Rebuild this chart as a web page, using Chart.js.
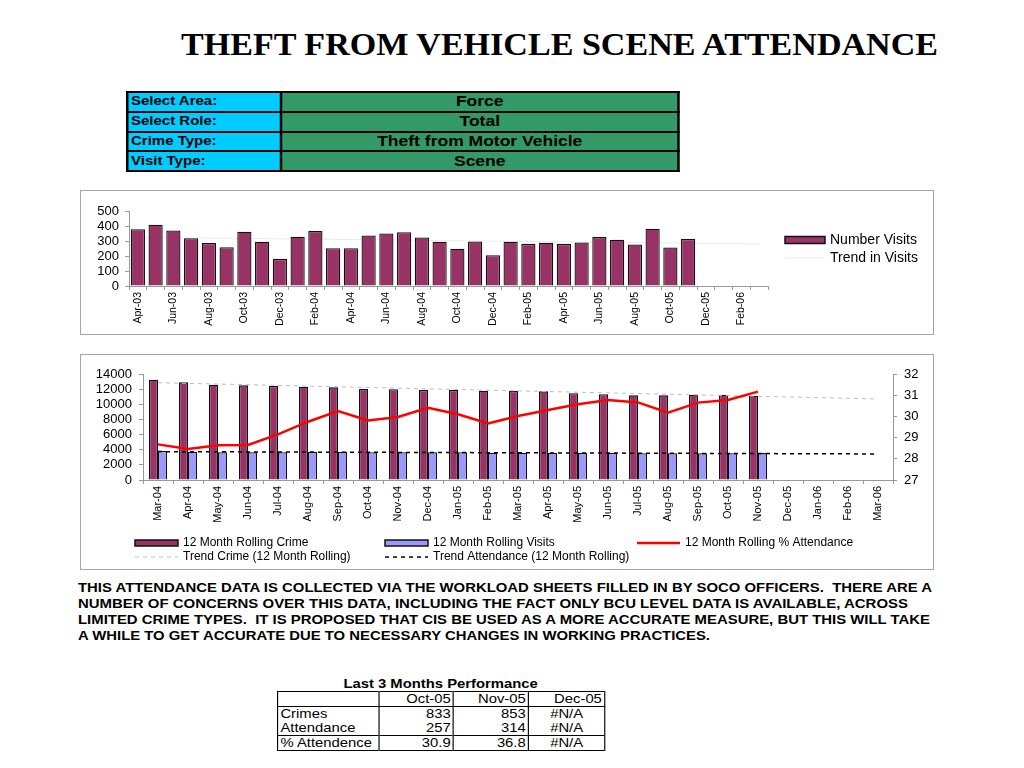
<!DOCTYPE html>
<html>
<head>
<meta charset="utf-8">
<title>Theft From Vehicle Scene Attendance</title>
<script src="https://cdn.jsdelivr.net/npm/chart.js@4.4.0/dist/chart.umd.min.js"></script>
<style>
  body { margin: 0; background: #fff; font-family: "Liberation Sans", Arial, sans-serif; color: #000; }
  #page { position: relative; width: 1024px; height: 768px; overflow: hidden; }
  #title { position: absolute; left: 181px; top: 28px; font: bold 32px "Liberation Serif", "Times New Roman", serif;
           line-height: 32px; white-space: nowrap; transform-origin: 0 0; }
  .box { position: absolute; left: 80px; width: 854px; border: 1px solid #a6a6a6; box-sizing: border-box; }
  .box .inner { position: relative; width: 852px; height: 100%; }

  #info { position: absolute; left: 126px; top: 91px; transform-origin: 0 0; transform: scaleX(1.25); }
  #info table { border-collapse: collapse; width: 443px; table-layout: fixed; }
  #info tr { height: 19.75px; }
  #info td { border: 2px solid #000; padding: 0 2px; font-weight: bold; line-height: 15px; white-space: nowrap; }
  #info td.lab { background: #00ccff; font-size: 12px; width: 117px; }
  #info td.val { background: #339966; font-size: 14px; text-align: center; }

  .note { position: absolute; left: 78px; font-weight: bold; font-size: 13px; line-height: 16px;
          white-space: pre; transform-origin: 0 0; }

  #perf { position: absolute; left: 277px; top: 676px; transform-origin: 0 0; transform: scaleX(1.14); }
  #perf .cap { width: 287px; text-align: center; font-weight: bold; font-size: 13px; line-height: 15px; }
  #perf table { border-collapse: collapse; table-layout: fixed; width: 287px; border: 1px solid #000; font-size: 13px; }
  #perf td { padding: 0 2px; line-height: 14px; height: 14px; border-left: 1px solid #000; border-right: 1px solid #000; white-space: nowrap; }
  #perf td.n { text-align: right; }
  #perf td.na { text-align: center; }
  #perf tr.head td { border-bottom: 1px solid #000; }
  #perf tr.pct td { border-top: 1px solid #000; }
</style>
</head>
<body>
<div id="page">
  <div id="title">THEFT FROM VEHICLE SCENE ATTENDANCE</div>

  <div id="info">
    <table>
      <tr><td class="lab">Select Area:</td><td class="val">Force</td></tr>
      <tr><td class="lab">Select Role:</td><td class="val">Total</td></tr>
      <tr><td class="lab">Crime Type:</td><td class="val">Theft from Motor Vehicle</td></tr>
      <tr><td class="lab">Visit Type:</td><td class="val">Scene</td></tr>
    </table>
  </div>

  <div class="box" style="top:190px;height:145px;"><div class="inner"><canvas id="visitsChart"></canvas></div></div>
  <div class="box" style="top:354px;height:216px;"><div class="inner"><canvas id="rollingChart"></canvas></div></div>

  <div class="note" style="top:580px;">THIS ATTENDANCE DATA IS COLLECTED VIA THE WORKLOAD SHEETS FILLED IN BY SOCO OFFICERS.  THERE ARE A</div>
  <div class="note" style="top:596px;">NUMBER OF CONCERNS OVER THIS DATA, INCLUDING THE FACT ONLY BCU LEVEL DATA IS AVAILABLE, ACROSS</div>
  <div class="note" style="top:612px;">LIMITED CRIME TYPES.  IT IS PROPOSED THAT CIS BE USED AS A MORE ACCURATE MEASURE, BUT THIS WILL TAKE</div>
  <div class="note" style="top:628px;">A WHILE TO GET ACCURATE DUE TO NECESSARY CHANGES IN WORKING PRACTICES.</div>

  <div id="perf">
    <div class="cap">Last 3 Months Performance</div>
    <table>
      <colgroup><col style="width:88.6px"><col style="width:65.8px"><col style="width:65.8px"><col style="width:66.8px"></colgroup>
      <tr class="head"><td></td><td class="n">Oct-05</td><td class="n">Nov-05</td><td class="n">Dec-05</td></tr>
      <tr><td>Crimes</td><td class="n">833</td><td class="n">853</td><td class="na">#N/A</td></tr>
      <tr><td>Attendance</td><td class="n">257</td><td class="n">314</td><td class="na">#N/A</td></tr>
      <tr class="pct"><td>% Attendence</td><td class="n">30.9</td><td class="n">36.8</td><td class="na">#N/A</td></tr>
    </table>
  </div>
</div>

<script>
// monthly visits, Apr-03 .. Mar-06
const visitMonths = ['Apr-03','May-03','Jun-03','Jul-03','Aug-03','Sep-03','Oct-03','Nov-03','Dec-03',
  'Jan-04','Feb-04','Mar-04','Apr-04','May-04','Jun-04','Jul-04','Aug-04','Sep-04','Oct-04','Nov-04','Dec-04',
  'Jan-05','Feb-05','Mar-05','Apr-05','May-05','Jun-05','Jul-05','Aug-05','Sep-05','Oct-05','Nov-05','Dec-05',
  'Jan-06','Feb-06','Mar-06'];
const numberVisits = [379, 408, 370, 319, 286, 259, 362, 295, 181,
  328, 366, 252, 252, 337, 350, 359, 324, 295, 248, 297, 205,
  295, 281, 288, 281, 290, 326, 308, 277, 382, 257, 314, null,
  null, null, null];
const visitTrendEnds = [325, 280];

// 12 month rolling figures, Mar-04 .. Mar-06
const rollingMonths = ['Mar-04','Apr-04','May-04','Jun-04','Jul-04','Aug-04','Sep-04','Oct-04','Nov-04','Dec-04',
  'Jan-05','Feb-05','Mar-05','Apr-05','May-05','Jun-05','Jul-05','Aug-05','Sep-05','Oct-05','Nov-05',
  'Dec-05','Jan-06','Feb-06','Mar-06'];
const rollingCrime = [13250, 12900, 12590, 12500, 12420, 12330, 12240, 12020, 11980, 11890,
  11890, 11800, 11760, 11710, 11450, 11320, 11180, 11180, 11270, 11270, 11140,
  null, null, null, null];
const rollingVisits = [3830, 3740, 3660, 3660, 3660, 3740, 3740, 3660, 3660, 3660,
  3660, 3570, 3590, 3580, 3570, 3560, 3540, 3530, 3540, 3530, 3550,
  null, null, null, null];
const rollingPct = [28.68, 28.46, 28.64, 28.65, 29.15, 29.75, 30.25, 29.81, 29.97, 30.41,
  30.10, 29.67, 30.02, 30.30, 30.57, 30.77, 30.66, 30.18, 30.65, 30.77, 31.17,
  null, null, null, null];
const crimeTrendEnds = [12850, 10700];
const attendTrendEnds = [3750, 3440];

const visitTicks = [0, 100, 200, 300, 400, 500];
const crimeTicks = [0, 2000, 4000, 6000, 8000, 10000, 12000, 14000];
const pctTicks = [27, 28, 29, 30, 31, 32];

Chart.defaults.font.family = '"Liberation Sans", Arial, sans-serif';
Chart.defaults.color = '#000';

// line running between the first and last category
function trendPoints(labels, ends) {
  return [{ x: labels[0], y: ends[0] }, { x: labels[labels.length - 1], y: ends[1] }];
}

// legend drawn at fixed slots, like the spreadsheet legend grid
const slotLegend = {
  id: 'slotLegend',
  afterDraw(chart, args, opts) {
    const ctx = chart.ctx;
    ctx.save();
    ctx.font = opts.font;
    ctx.textBaseline = 'middle';
    chart.data.datasets.forEach((ds, i) => {
      const slot = opts.slots[i];
      if (!slot) return;
      const [x, y] = slot;
      if (ds.type === 'line') {
        ctx.strokeStyle = ds.borderColor;
        ctx.lineWidth = ds.borderWidth;
        ctx.setLineDash(ds.borderDash || []);
        ctx.beginPath();
        ctx.moveTo(x, y);
        ctx.lineTo(x + opts.boxWidth, y);
        ctx.stroke();
        ctx.setLineDash([]);
      } else {
        ctx.fillStyle = ds.backgroundColor;
        ctx.fillRect(x, y - opts.boxHeight / 2, opts.boxWidth, opts.boxHeight);
        ctx.strokeStyle = ds.borderColor;
        ctx.lineWidth = 1.5;
        ctx.strokeRect(x, y - opts.boxHeight / 2, opts.boxWidth, opts.boxHeight);
      }
      ctx.fillStyle = '#000';
      ctx.fillText(ds.label, x + opts.boxWidth + opts.gap, y);
    });
    ctx.restore();
  }
};

function tickList(values) {
  return function (scale) {
    scale.ticks = values.map(v => ({ value: v }));
  };
}
const plainNumber = v => String(v);

new Chart(document.getElementById('visitsChart'), {
  type: 'bar',
  data: {
    labels: visitMonths,
    datasets: [
      { label: 'Number Visits', data: numberVisits, backgroundColor: '#993366', borderColor: '#111',
        borderWidth: 1.3, categoryPercentage: 0.8, barPercentage: 1, order: 1 },
      { type: 'line', label: 'Trend in Visits', data: trendPoints(visitMonths, visitTrendEnds),
        borderColor: '#ebebeb', borderWidth: 1, pointRadius: 0, order: 2 }
    ]
  },
  options: {
    responsive: true,
    maintainAspectRatio: false,
    animation: false,
    layout: { padding: { top: 20, right: 165, bottom: 4, left: 0 } },
    plugins: {
      legend: { display: false },
      tooltip: { enabled: false },
      slotLegend: { font: '14px "Liberation Sans", Arial, sans-serif', boxWidth: 40, boxHeight: 7, gap: 5,
        slots: [[704, 49], [704, 67]] }
    },
    scales: {
      x: {
        grid: { drawOnChartArea: false, color: '#999', tickLength: 4 },
        border: { color: '#999' },
        ticks: { font: { size: 10.5 }, minRotation: 90, maxRotation: 90, autoSkip: false, padding: 2,
          callback: function (v, i) { return i % 2 === 0 ? this.getLabelForValue(v) : ''; } },
        afterFit: s => { s.height = 44; }
      },
      y: {
        min: 0, max: 500,
        grid: { drawOnChartArea: false, color: '#999', tickLength: 4 },
        border: { color: '#999' },
        ticks: { font: { size: 13 }, padding: 6, autoSkip: false, callback: plainNumber },
        afterBuildTicks: tickList(visitTicks),
        afterFit: s => { s.width = 48; }
      }
    }
  },
  plugins: [slotLegend]
});

new Chart(document.getElementById('rollingChart'), {
  type: 'bar',
  data: {
    labels: rollingMonths,
    datasets: [
      { label: '12 Month Rolling Crime', data: rollingCrime, backgroundColor: '#993366', borderColor: '#111',
        borderWidth: 1.3, categoryPercentage: 0.6, barPercentage: 1, yAxisID: 'y', order: 2 },
      { label: '12 Month Rolling Visits', data: rollingVisits, backgroundColor: '#9999ff', borderColor: '#111',
        borderWidth: 1.3, categoryPercentage: 0.6, barPercentage: 1, yAxisID: 'y', order: 2 },
      { type: 'line', label: '12 Month Rolling % Attendance', data: rollingPct, borderColor: '#ff0000',
        borderWidth: 2.5, pointRadius: 0, yAxisID: 'y2', order: 0 },
      { type: 'line', label: 'Trend Crime (12 Month Rolling)', data: trendPoints(rollingMonths, crimeTrendEnds),
        borderColor: '#bdbdbd', borderWidth: 1, borderDash: [4, 4], pointRadius: 0, yAxisID: 'y', order: 1 },
      { type: 'line', label: 'Trend Attendance (12 Month Rolling)', data: trendPoints(rollingMonths, attendTrendEnds),
        borderColor: '#000', borderWidth: 1.5, borderDash: [4, 4], pointRadius: 0, yAxisID: 'y', order: 1 }
    ]
  },
  options: {
    responsive: true,
    maintainAspectRatio: false,
    animation: false,
    layout: { padding: { top: 19, right: 0, bottom: 44, left: 0 } },
    plugins: {
      legend: { display: false },
      tooltip: { enabled: false },
      slotLegend: { font: '12px "Liberation Sans", Arial, sans-serif', boxWidth: 43, boxHeight: 6, gap: 5,
        slots: [[54, 188], [304, 188], [556, 188], [54, 202], [304, 202]] }
    },
    scales: {
      x: {
        grid: { drawOnChartArea: false, color: '#999', tickLength: 4 },
        border: { color: '#999' },
        ticks: { font: { size: 11 }, minRotation: 90, maxRotation: 90, autoSkip: false, padding: 2 },
        afterFit: s => { s.height = 45; }
      },
      y: {
        position: 'left', min: 0, max: 14000,
        grid: { drawOnChartArea: false, color: '#999', tickLength: 4 },
        border: { color: '#999' },
        ticks: { font: { size: 13 }, padding: 7, autoSkip: false, callback: plainNumber },
        afterBuildTicks: tickList(crimeTicks),
        afterFit: s => { s.width = 62; }
      },
      y2: {
        position: 'right', min: 27, max: 32,
        grid: { drawOnChartArea: false, color: '#999', tickLength: 4 },
        border: { color: '#999' },
        ticks: { font: { size: 13 }, padding: 7, autoSkip: false, callback: plainNumber },
        afterBuildTicks: tickList(pctTicks),
        afterFit: s => { s.width = 40; }
      }
    }
  },
  plugins: [slotLegend]
});

// squeeze or stretch text lines to the widths they take in the original slide
function fitWidth(el, target) {
  el.style.display = 'inline-block';
  const w = el.getBoundingClientRect().width;
  el.style.transform = 'scaleX(' + (target / w) + ')';
}
fitWidth(document.getElementById('title'), 757);
const noteWidths = [854, 830, 852, 632];
document.querySelectorAll('.note').forEach((el, i) => fitWidth(el, noteWidths[i]));
</script>
</body>
</html>
